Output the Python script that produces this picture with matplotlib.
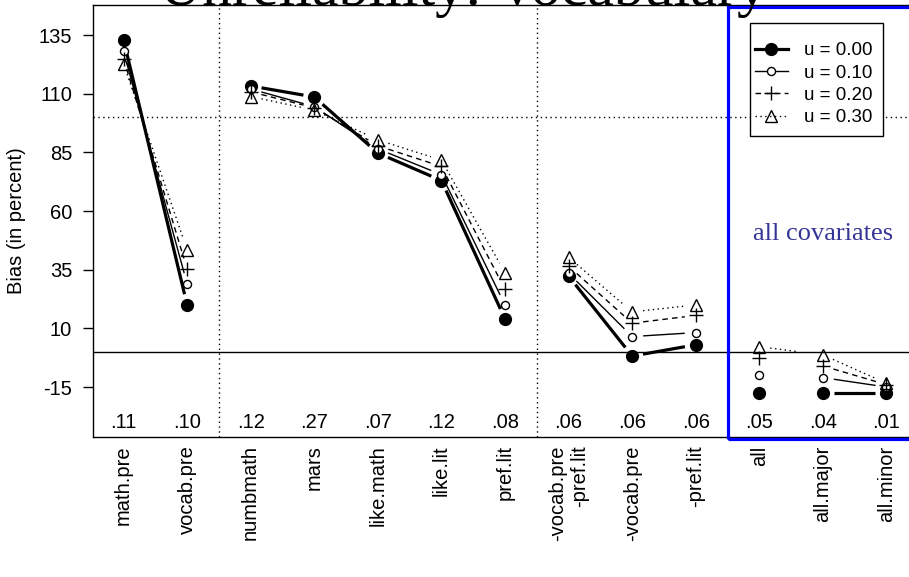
import numpy as np
import matplotlib
matplotlib.use("Agg")
import matplotlib.pyplot as plt
from matplotlib.lines import Line2D
from matplotlib.patches import Rectangle

# ---------------- data ----------------
categories = ['math.pre', 'vocab.pre', 'numbmath', 'mars', 'like.math', 'like.lit',
              'pref.lit', '-vocab.pre\n-pref.lit', '-vocab.pre', '-pref.lit',
              'all', 'all.major', 'all.minor']
bias_u000 = [133.0, 20.0, 113.3, 108.6, 84.7, 73.0, 14.0, 32.3, -1.8, 3.0, -17.4, -17.4, -17.4]
bias_u010 = [128.0, 29.0, 112.0, 104.5, 86.5, 75.5, 20.0, 33.5, 6.5, 8.2, -10.0, -11.0, -15.0]
bias_u020 = [125.0, 35.3, 110.8, 104.0, 87.8, 79.0, 26.6, 36.5, 12.2, 15.5, -2.8, -6.0, -14.0]
bias_u030 = [122.8, 43.4, 108.8, 103.0, 90.3, 81.7, 33.7, 40.3, 17.0, 20.0, 2.2, -1.3, -13.4]
r2_labels = ['.11', '.10', '.12', '.27', '.07', '.12', '.08', '.06', '.06', '.06', '.05', '.04', '.01']
series_labels = ['u = 0.00', 'u = 0.10', 'u = 0.20', 'u = 0.30']
# groups of connected categories (0-based index ranges)
groups = [(0, 1), (2, 6), (7, 9), (11, 12)]
yticks = [-15, 10, 35, 60, 85, 110, 135]

# ---------------- figure ----------------
W, H = 909, 577
fig = plt.figure(figsize=(W / 100, H / 100), dpi=100)
plt.rcParams['font.family'] = ['Liberation Sans', 'DejaVu Sans']
FS = 14.5

left_px, right_px, top_px, bot_px = 93, 917, 5, 437
ax = fig.add_axes([left_px / W, 1 - bot_px / H, (right_px - left_px) / W, (bot_px - top_px) / H])
x = np.arange(1, len(categories) + 1)
ax.set_xlim(0.52, 13.48)
ax.set_ylim(-36.3, 147.8)

for s in ax.spines.values():
    s.set_linewidth(1.0)
ax.set_yticks(yticks)
ax.set_yticklabels([str(v) for v in yticks], fontsize=FS)
ax.tick_params(axis='y', length=7, width=1, pad=8, direction='out')
ax.set_xticks(x)
ax.set_xticklabels(categories, rotation=90, fontsize=FS, va='top', ha='center',
                   multialignment='right')
ax.tick_params(axis='x', length=0, pad=6)
ax.set_ylabel('Bias (in percent)', fontsize=FS, labelpad=9)

# reference lines
ax.axhline(0, color='black', lw=1.0, zorder=1)
ax.axhline(100, color='black', lw=1.0, ls=(0, (1, 2.5)), zorder=1)
for xv in (2.5, 7.5):
    ax.axvline(xv, color='black', lw=1.0, ls=(0, (1, 2.5)), zorder=1)

styles = [
    dict(lw=2.3, ls='-', marker='o', ms=8.5, mfc='black', mec='black', mew=1.0),
    dict(lw=1.0, ls='-', marker='o', ms=5.8, mfc='white', mec='black', mew=1.0),
    dict(lw=1.0, ls=(0, (4, 3)), marker='+', ms=10, mfc='none', mec='black', mew=1.0),
    dict(lw=1.0, ls=(0, (1, 2.5)), marker='^', ms=9, mfc='none', mec='black', mew=1.0),
]
all_series = [bias_u000, bias_u010, bias_u020, bias_u030]

fig.canvas.draw()
gap = 11.0  # pixels


def seg(x0, y0, x1, y1, frac=1.0, **kw):
    p0 = ax.transData.transform((x0, y0))
    p1 = ax.transData.transform((x1, y1))
    d = p1 - p0
    L = np.hypot(*d)
    u = d / L
    q0 = p0 + u * gap
    q1 = p0 + u * (L * frac - (gap if frac >= 1 else 0))
    back = ax.transData.inverted().transform(np.array([q0, q1]))
    ax.plot(back[:, 0], back[:, 1], color='black', solid_capstyle='butt', **kw)


for vals, st in zip(all_series, styles):
    for a, b in groups:
        for i in range(a, b):
            seg(x[i], vals[i], x[i + 1], vals[i + 1], lw=st['lw'], ls=st['ls'], zorder=2)
    ax.plot(x, vals, ls='none', marker=st['marker'], ms=st['ms'], mfc=st['mfc'],
            mec=st['mec'], mew=st['mew'], zorder=3)

# partial dotted segment in the 'all' group for u = 0.30
seg(x[10], bias_u030[10], x[11], bias_u030[11], frac=0.6, lw=1.0, ls=(0, (1, 2.5)), zorder=2)

# R^2 labels along the bottom
for xi, lab in zip(x, r2_labels):
    ax.text(xi, -30, lab, ha='center', va='center', fontsize=FS)

# blue box for "all covariates"
ax.add_patch(Rectangle((10.5, -37.0), 13.4 - 10.5, 146.9 + 37.0, fill=False,
                       edgecolor='#0000ff', lw=2.3, clip_on=False, zorder=4))
ax.text(12, 50, 'all covariates', ha='center', va='center', fontsize=19,
        color='#353597', family=['Liberation Serif', 'DejaVu Serif'])

# legend (frame drawn separately to mimic R's padding)
ax.add_patch(Rectangle((750 / W, 1 - 136 / H), 133 / W, 113 / H, transform=fig.transFigure,
                       facecolor='white', edgecolor='black', lw=1.0, clip_on=False,
                       zorder=4.5))
handles = [Line2D([0], [0], color='black', lw=st['lw'], ls=st['ls'], marker=st['marker'],
                  ms=st['ms'], mfc=st['mfc'], mec=st['mec'], mew=st['mew'])
           for st in styles]
leg = ax.legend(handles, series_labels, loc='upper left',
                bbox_to_anchor=(755 / W, 1 - 42 / H), bbox_transform=fig.transFigure,
                fontsize=13.5, frameon=False, handlelength=1.75, handletextpad=0.85,
                labelspacing=0.28, borderpad=0, borderaxespad=0)
leg.set_zorder(5)

# title (partially cut off at the top, as in the reference)
fig.text(463 / W, 1 - 5.5 / H, 'Unreliability: Vocabulary', ha='center', va='baseline',
         fontsize=43, family=['Liberation Serif', 'DejaVu Serif'])

fig.savefig('out.png', dpi=100)
